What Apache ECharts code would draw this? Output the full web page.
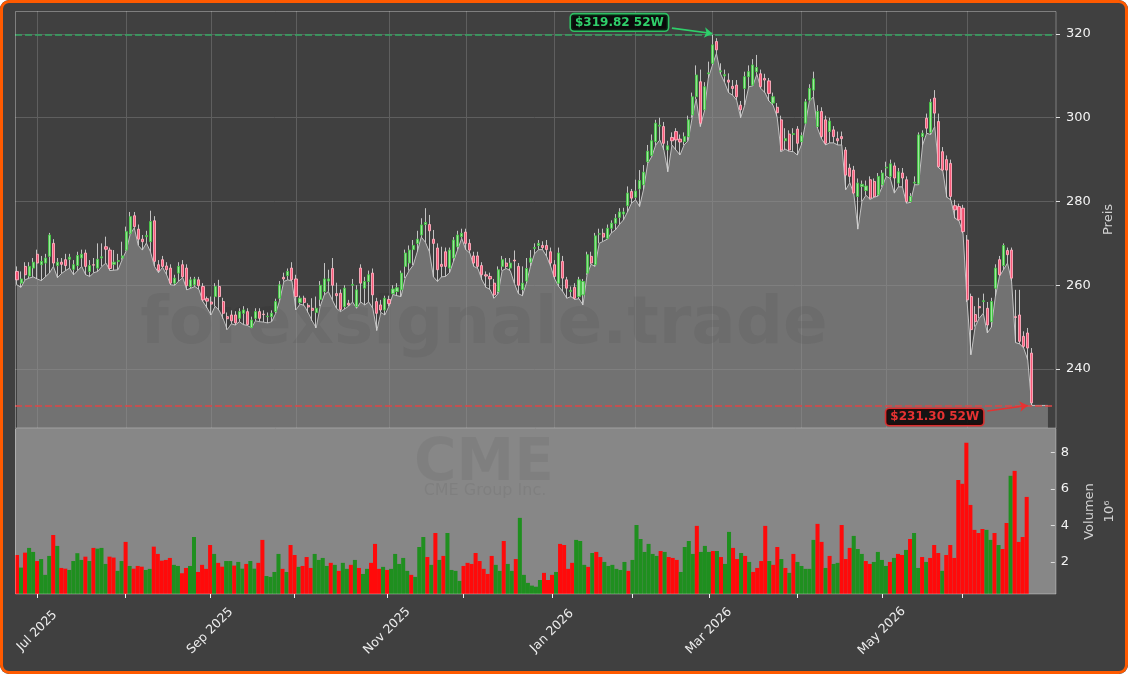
<!DOCTYPE html>
<html><head><meta charset="utf-8">
<script src="https://cdn.jsdelivr.net/npm/echarts@6/dist/echarts.min.js"></script>
<style>
html,body{margin:0;padding:0;background:#ffffff;}
#wrap{position:relative;width:1128px;height:674px;background:#404040;border-radius:9px;overflow:hidden;}
#chart{position:absolute;left:0;top:0;width:1128px;height:674px;}
#frame{position:absolute;left:0;top:0;width:1128px;height:674px;box-sizing:border-box;border:3px solid #ff5a00;border-radius:9px;pointer-events:none;}
</style></head>
<body><div id="wrap"><div id="chart"></div><div id="frame"></div></div>
<script>
// ---- calendar (trading days) ----
const startDate = '2025-06-24';
const endDate = '2026-06-24';
const holidays = ['2025-07-04','2025-09-01','2025-11-27','2025-12-25','2026-01-01','2026-01-19','2026-02-16','2026-04-03','2026-05-25','2026-06-19'];
const padSlots = ['p1','p2','p3','p4','p5'];
const monthNames = ['Jan','Feb','Mar','Apr','May','Jun','Jul','Aug','Sep','Oct','Nov','Dec'];
const priceTicks = [240, 260, 280, 300, 320];
const volTicks = [2, 4, 6, 8];

// ---- OHLC ----
const openP = [263.3,260.5,264.5,262.2,264.1,267.4,264.9,265.3,266.9,270.0,264.7,265.5,266.1,266.2,263.8,264.7,266.5,267.7,263.3,264.9,
264.1,266.5,269.2,268.4,265.0,265.7,266.5,268.4,272.4,276.6,273.4,271.0,271.6,270.4,275.4,264.9,266.1,264.6,264.1,260.5,
262.9,264.9,264.1,259.7,260.1,261.3,259.7,256.8,256.0,257.3,259.7,256.1,252.5,252.9,252.9,252.1,253.3,253.7,249.9,252.1,
253.7,253.1,252.5,252.5,253.7,256.9,261.9,262.3,264.1,261.5,255.9,256.9,255.2,254.5,253.5,256.6,258.5,261.0,264.0,258.0,
258.1,254.9,255.7,260.0,254.9,264.1,259.3,260.9,262.9,256.1,255.3,254.1,256.6,258.0,258.5,258.9,264.5,265.3,268.5,270.0,
272.0,274.5,274.5,271.0,268.9,265.0,268.0,264.1,266.5,269.2,271.6,272.7,270.0,267.0,267.0,264.7,262.5,262.1,260.5,258.5,
264.5,265.3,264.1,266.0,264.5,259.0,261.0,265.5,268.8,269.5,269.5,269.5,268.0,264.9,260.5,265.7,261.3,258.5,259.5,257.3,
257.7,262.9,266.9,264.9,272.2,272.4,271.2,273.6,274.8,276.2,277.0,279.0,282.4,281.0,283.0,284.0,289.5,291.0,294.3,298.0,
297.9,292.3,295.3,296.7,294.9,294.3,295.5,300.7,305.0,308.6,301.9,310.5,313.0,318.2,311.0,310.0,309.0,307.5,307.8,303.0,
307.0,309.8,307.8,311.0,310.5,309.4,308.8,303.5,302.5,299.5,294.5,296.1,296.0,297.3,294.3,298.7,304.2,306.6,297.9,301.5,
299.5,296.7,297.1,295.0,295.5,292.3,288.0,287.5,281.2,283.6,282.6,285.2,284.8,281.6,284.0,288.0,286.0,288.5,284.4,286.8,
285.2,280.0,284.4,284.2,295.5,299.9,296.5,304.7,299.1,291.9,290.0,289.1,279.0,278.8,278.4,270.8,257.3,253.0,254.9,256.1,
254.5,251.3,259.3,266.1,264.7,268.3,268.4,252.5,252.9,247.8,248.6,243.8];
const closeP = [261.3,261.5,262.5,264.5,265.5,265.3,265.7,266.5,272.0,265.3,265.5,265.0,264.7,266.7,264.9,267.1,267.4,264.5,264.7,264.8,
266.2,266.8,268.6,264.0,265.5,265.9,267.0,272.8,276.4,274.0,271.0,270.4,271.9,275.2,265.7,263.5,264.5,263.7,260.5,261.7,
264.5,262.0,259.9,261.3,261.5,259.9,256.5,256.2,255.5,259.7,257.3,253.3,252.0,251.5,251.0,253.7,254.1,250.6,251.7,253.7,
252.1,253.0,252.6,253.3,256.1,260.1,261.5,263.3,261.3,257.3,256.9,255.9,254.8,254.0,254.5,260.0,261.5,261.5,260.0,257.5,
254.2,259.3,255.3,260.2,258.9,260.5,260.9,262.5,257.7,253.3,254.1,256.9,255.6,259.1,259.4,262.9,267.7,268.4,269.5,271.0,
274.4,275.0,273.0,270.0,263.7,264.5,264.5,268.4,270.8,272.0,272.4,270.0,268.4,265.3,264.5,262.5,262.2,261.5,257.7,263.7,
266.1,264.5,265.3,265.8,260.0,260.5,264.0,266.5,269.0,270.0,269.0,268.5,265.3,262.1,267.7,261.7,259.3,258.8,256.9,261.3,
260.9,267.3,265.3,271.8,272.3,271.5,273.6,274.8,276.0,277.5,277.5,282.0,280.8,282.5,285.0,287.0,292.0,294.5,298.7,298.2,
293.9,293.3,294.5,294.7,294.2,295.5,299.5,305.0,310.2,298.7,307.4,310.7,317.4,316.2,311.2,310.3,308.5,307.0,305.0,301.9,
309.8,311.0,312.6,312.0,307.4,309.0,305.8,305.0,301.2,292.3,295.0,292.3,296.2,293.9,295.7,303.8,307.0,309.3,301.5,295.5,
293.9,299.2,295.5,294.5,295.0,286.3,286.0,282.0,284.4,284.1,283.7,280.8,281.2,286.0,286.8,288.2,289.0,285.6,287.1,285.6,
280.0,281.2,284.6,295.9,296.3,297.5,303.7,301.1,288.3,287.5,287.5,281.2,278.0,275.6,272.8,256.5,249.4,251.3,254.6,256.3,
250.5,256.1,264.1,262.5,269.5,267.3,261.7,252.3,246.6,245.4,245.0,231.9];
const highP = [264.5,263.3,265.5,265.5,266.5,268.5,267.0,267.5,272.5,271.0,266.5,266.5,267.5,267.5,266.0,268.0,268.5,268.5,266.0,266.5,
270.0,270.0,271.6,269.0,268.4,267.5,270.4,274.0,277.5,277.5,274.5,272.0,273.0,277.8,276.5,266.0,267.0,265.5,265.0,262.5,
265.5,266.0,265.0,262.0,262.0,262.0,260.5,257.3,257.3,260.5,261.3,257.0,253.5,254.0,253.8,254.5,255.0,254.5,252.5,254.5,
254.5,254.0,253.5,254.0,256.8,261.0,263.0,264.0,265.5,262.5,257.5,257.5,255.7,256.9,257.3,261.0,265.3,263.7,266.5,260.6,
259.0,260.0,256.5,261.5,260.0,265.0,262.0,263.5,264.0,257.0,256.5,257.5,257.5,260.0,260.5,263.5,268.5,269.5,270.8,273.0,
276.0,278.4,276.8,273.2,270.0,269.2,269.0,269.0,271.5,273.0,273.5,273.5,271.0,268.0,268.0,265.5,263.3,263.0,261.5,264.5,
267.0,266.5,266.5,268.3,265.3,264.5,266.5,268.4,270.0,270.8,270.5,270.8,269.0,266.0,269.0,267.0,262.0,259.7,260.5,262.0,
261.5,268.0,268.0,272.5,273.5,273.5,274.5,275.5,277.0,278.4,278.5,283.6,283.0,285.2,287.5,288.7,293.5,296.0,299.5,300.0,
299.0,294.5,296.5,297.5,296.0,296.5,300.5,306.0,312.5,311.5,308.5,313.4,319.82,319.0,313.0,311.5,310.6,309.0,309.0,304.0,
311.0,312.5,314.0,315.0,311.5,310.5,309.5,306.0,303.5,300.5,297.5,297.0,297.5,298.0,296.5,304.5,308.0,311.0,303.0,302.5,
300.5,300.0,298.0,296.7,296.7,293.0,289.0,288.5,285.5,285.0,285.0,286.0,285.5,286.8,287.5,289.5,290.0,289.3,288.0,288.0,
286.0,282.0,286.0,296.5,297.0,301.0,304.5,306.6,301.0,293.0,291.0,290.0,280.4,279.5,279.2,272.0,258.0,255.0,257.0,258.0,
256.0,257.0,265.0,267.0,270.0,269.0,269.0,258.9,258.9,249.0,249.8,245.0];
const lowP = [260.1,259.5,261.3,261.7,262.0,261.5,261.1,262.0,262.9,264.5,261.8,262.8,263.5,264.1,262.5,263.5,264.5,262.5,262.1,263.0,
263.3,264.5,265.3,263.5,263.6,263.7,266.1,268.2,272.2,273.7,269.5,268.4,270.1,268.0,264.5,263.0,264.3,262.5,260.1,260.0,
261.0,261.8,258.9,259.3,259.7,259.0,256.1,254.6,252.9,255.0,254.0,252.0,249.4,250.8,250.5,251.3,250.6,250.4,249.8,251.5,
251.3,251.2,251.0,251.3,253.3,256.5,260.9,261.3,261.0,254.1,255.5,255.2,253.5,251.5,249.8,255.0,257.7,258.5,256.5,254.5,
253.7,254.3,255.0,256.0,254.5,256.0,255.3,256.0,254.5,249.2,253.5,252.9,255.0,257.8,257.5,257.3,261.7,263.5,264.8,268.0,
271.5,270.3,268.0,262.0,260.9,262.0,262.1,263.0,265.8,268.5,271.2,268.5,267.7,264.5,264.0,261.3,259.5,259.0,256.9,258.0,
263.5,264.0,263.5,260.5,258.0,257.5,260.5,264.5,267.5,268.5,268.5,266.9,264.5,261.5,259.7,258.5,256.9,257.3,256.6,256.8,
255.3,262.5,265.0,264.5,270.0,270.5,271.0,272.5,273.2,274.5,275.6,277.5,279.6,280.4,278.8,283.0,289.1,290.7,293.5,294.7,
292.3,287.1,293.5,292.3,291.1,293.5,294.5,300.0,304.5,297.9,301.5,309.5,312.5,315.4,310.5,308.5,306.0,305.4,304.2,300.0,
303.0,307.4,307.6,310.4,307.0,306.0,304.0,303.0,300.3,291.9,292.5,292.0,291.9,291.1,293.5,298.5,304.0,305.0,297.5,295.0,
293.5,294.0,294.0,293.5,293.5,282.8,284.5,281.7,273.4,280.0,281.5,280.5,281.0,281.3,283.5,286.0,285.5,282.0,283.5,283.5,
279.6,279.8,284.0,284.0,293.5,296.3,296.0,297.9,288.0,287.3,281.0,280.4,276.0,275.4,272.4,256.0,243.4,250.1,252.1,253.3,
248.6,250.0,257.3,262.1,263.7,265.3,261.0,246.3,246.0,245.0,242.2,231.3];
// the filled low line continues flat to the right edge of the plot
const lowTail = [231.3, 231.3, 231.3, 231.3];

// ---- volume in millions, 1 = green bar, 0 = red bar ----
const volume = [2.38,1.69,2.51,2.77,2.55,2.05,2.16,1.29,2.33,3.48,2.88,1.67,1.63,1.56,2.05,2.48,2.11,2.29,2.05,2.77,
2.73,2.77,1.89,2.29,2.24,1.51,2.05,3.10,1.78,1.63,1.78,1.74,1.56,1.62,2.84,2.44,2.07,2.11,2.22,1.84,
1.78,1.38,1.67,1.78,3.37,1.45,1.84,1.62,2.93,2.44,1.95,1.74,2.05,2.05,1.80,2.00,1.63,1.89,2.05,1.63,
1.95,3.21,1.23,1.18,1.45,2.44,1.62,1.45,2.93,2.38,1.73,1.78,2.27,1.67,2.44,2.11,2.22,1.78,1.95,1.84,
1.51,1.95,1.62,1.84,2.11,1.67,1.34,1.62,1.95,2.99,1.62,1.73,1.56,1.62,2.44,1.89,2.22,1.51,1.29,1.18,
2.82,3.37,2.27,1.84,3.59,2.11,2.33,3.59,1.56,1.51,0.96,1.78,1.95,1.89,2.49,2.05,1.62,1.34,2.33,1.84,
1.51,3.15,1.89,1.51,2.16,4.42,1.29,0.85,0.70,0.64,1.01,1.40,1.01,1.29,1.45,2.99,2.93,1.62,1.95,3.21,
3.15,1.84,1.73,2.49,2.55,2.27,2.00,1.78,1.84,1.62,1.56,2.00,1.51,2.11,4.03,3.26,2.55,2.99,2.44,2.33,
2.60,2.55,2.27,2.22,2.11,1.45,2.82,3.15,2.44,3.98,2.55,2.88,2.55,2.60,2.60,2.27,1.89,3.65,2.77,2.16,
2.49,2.33,2.00,1.45,1.67,2.05,3.98,2.05,1.84,2.82,2.16,1.67,1.40,2.44,2.00,1.78,1.62,1.62,3.21,4.09,
3.10,1.67,2.33,1.89,1.95,4.03,2.16,2.77,3.43,2.71,2.44,2.05,1.89,2.00,2.55,2.11,1.78,2.00,2.22,2.44,
2.38,2.66,3.26,3.59,1.67,2.27,2.00,2.22,2.93,2.49,1.51,2.38,2.93,2.22,6.50,6.29,8.54,5.13,3.76,3.59,
3.81,3.76,3.21,3.59,2.93,2.71,4.14,6.73,7.00,3.10,3.37,5.57];
const volUp = [0,1,0,1,1,0,1,1,1,0,1,0,0,1,1,1,1,0,1,0,
1,1,1,0,0,1,1,0,1,0,0,0,1,1,0,0,0,0,0,1,
1,0,0,1,1,0,0,0,0,1,0,0,1,1,0,1,1,0,1,1,
0,0,1,1,1,1,0,1,0,0,1,0,0,0,1,1,1,1,0,1,
0,1,1,0,1,0,1,1,0,0,0,1,0,1,1,1,1,1,0,1,
1,1,0,1,0,1,0,1,1,1,1,0,0,0,0,0,0,0,0,1,
1,0,1,1,0,1,1,1,1,1,1,0,0,0,1,0,0,0,0,1,
1,1,0,1,0,0,1,1,1,1,1,1,0,1,1,1,1,1,1,1,
0,1,0,0,0,1,1,1,1,0,1,1,1,0,1,0,1,1,0,0,
1,0,1,0,0,0,0,1,0,0,1,0,1,0,1,1,1,1,1,0,
0,1,0,1,1,0,0,0,1,1,1,0,0,1,1,1,1,0,1,0,
0,1,0,1,1,0,1,0,0,0,1,0,0,0,0,0,0,0,0,0,
0,1,1,0,1,0,0,1,0,0,0,0];

function tradingDays(s, e, hol) {
  const out = [];
  const d = new Date(s + 'T00:00:00Z');
  const end = new Date(e + 'T00:00:00Z');
  while (d <= end) {
    const wd = d.getUTCDay();
    const iso = d.toISOString().slice(0, 10);
    if (wd !== 0 && wd !== 6 && hol.indexOf(iso) < 0) out.push(iso);
    d.setUTCDate(d.getUTCDate() + 1);
  }
  return out;
}
const dates = tradingDays(startDate, endDate, holidays).slice(0, openP.length);
const cats = dates.concat(padSlots);
function isMonthStart(i) {
  return i > 0 && i < dates.length && dates[i].slice(0, 7) !== dates[i - 1].slice(0, 7);
}
function isLabelMonth(i) {
  return isMonthStart(i) && (parseInt(dates[i].slice(5, 7), 10) % 2 === 1);
}
function fmtMonth(v) {
  if (!/^\d{4}-\d{2}/.test(v)) return '';
  return monthNames[parseInt(v.slice(5, 7), 10) - 1] + ' ' + v.slice(0, 4);
}
const monthStartIdx = [];
for (let i = 0; i < dates.length; i++) if (isMonthStart(i)) monthStartIdx.push(i);

const lowArea = lowP.concat(lowTail).concat(['-']);
const wickData = lowP.map((l, i) => [l, l, l, highP[i]]);
const bodyData = openP.map((o, i) => [o, closeP[i], Math.min(o, closeP[i]), Math.max(o, closeP[i])]);
const volData = volume.map((v, i) => ({ value: v, itemStyle: { color: volUp[i] ? '#1f8f1f' : '#ff0a0a' } }));

const hiIdx = highP.indexOf(Math.max.apply(null, highP));
const loIdx = lowP.indexOf(Math.min.apply(null, lowP));
const hiVal = highP[hiIdx], loVal = lowP[loIdx];

const FONT = 'DejaVu Sans';
const chart = echarts.init(document.getElementById('chart'), null, { renderer: 'canvas' });
const option = {
  animation: false,
  backgroundColor: 'transparent',
  textStyle: { fontFamily: FONT },
  grid: [
    { left: 15, top: 11, width: 1039, height: 417 },
    { left: 15, top: 429, width: 1039, height: 165 }
  ],
  graphic: [
    { type: 'rect', z: -5, shape: { x: 15, y: 429, width: 1041, height: 165 }, style: { fill: '#878787' }, silent: true },
    { type: 'rect', z: 50, shape: { x: 15.5, y: 11.5, width: 1040.5, height: 416.5 }, style: { fill: 'none', stroke: 'rgba(255,255,255,0.33)', lineWidth: 1 }, silent: true },
    { type: 'rect', z: 50, shape: { x: 15.5, y: 428.5, width: 1040.5, height: 165.5 }, style: { fill: 'none', stroke: 'rgba(255,255,255,0.33)', lineWidth: 1 }, silent: true },
    { type: 'text', z: 3, x: 484, y: 326, silent: true, style: { text: 'forexsignale.trade', font: 'bold 66px "DejaVu Sans"', fill: 'rgba(0,0,0,0.055)', textAlign: 'center', textVerticalAlign: 'middle' } },
    { type: 'text', z: 3, x: 484, y: 465, silent: true, style: { text: 'CME', font: 'bold 58px "DejaVu Sans"', fill: 'rgba(0,0,0,0.055)', textAlign: 'center', textVerticalAlign: 'middle' } },
    { type: 'text', z: 3, x: 485, y: 491, silent: true, style: { text: 'CME Group Inc.', font: '16px "DejaVu Sans"', fill: 'rgba(0,0,0,0.06)', textAlign: 'center', textVerticalAlign: 'middle' } }
  ],
  xAxis: [
    { type: 'category', gridIndex: 0, data: cats, boundaryGap: true,
      axisLine: { show: false }, axisTick: { show: false }, axisLabel: { show: false }, splitLine: { show: false } },
    { type: 'category', gridIndex: 1, data: cats, boundaryGap: true,
      axisLine: { show: false },
      axisTick: { show: true, alignWithLabel: true, interval: (i) => isMonthStart(i), length: 4, lineStyle: { color: '#f0f0f0', width: 1 } },
      axisLabel: { show: true, interval: (i) => isLabelMonth(i), rotate: 45, align: 'center', verticalAlign: 'middle', margin: 37,
        color: '#ececec', fontSize: 12.5, fontFamily: FONT, formatter: fmtMonth },
      splitLine: { show: false } }
  ],
  yAxis: [
    { type: 'value', gridIndex: 0, position: 'right', offset: 2, min: 225.91, max: 325.49,
      axisLine: { show: false },
      axisTick: { show: true, length: 4, customValues: priceTicks, lineStyle: { color: '#dcdcdc' } },
      axisLabel: { color: '#f2f2f2', fontSize: 13, margin: 10, fontFamily: FONT, customValues: priceTicks },
      splitLine: { show: true, lineStyle: { color: '#5f5f5f', width: 1 } },
      name: 'Preis', nameLocation: 'middle', nameGap: 40, nameTextStyle: { color: '#d2d2d2', fontSize: 13, fontFamily: FONT } },
    { type: 'value', gridIndex: 1, position: 'right', offset: 2, min: 0.24, max: 9.3,
      axisLine: { show: false },
      axisTick: { show: true, length: 4, customValues: volTicks, lineStyle: { color: '#dcdcdc' } },
      axisLabel: { color: '#f2f2f2', fontSize: 13, margin: 10, fontFamily: FONT, customValues: volTicks },
      splitLine: { show: false },
      name: 'Volumen\n10\u2076', nameLocation: 'middle', nameGap: 18, nameTextStyle: { color: '#d2d2d2', fontSize: 13, lineHeight: 20, fontFamily: FONT } }
  ],
  series: [
    { name: 'grid-host', type: 'line', xAxisIndex: 0, yAxisIndex: 0, data: lowArea, symbol: 'none', silent: true,
      lineStyle: { opacity: 0 }, z: 1,
      markLine: { silent: true, z: 1, symbol: ['none', 'none'], label: { show: false },
        lineStyle: { color: '#5f5f5f', type: 'solid', width: 1 },
        data: monthStartIdx.map((i) => ({ xAxis: i })) } },
    { name: 'low', type: 'line', xAxisIndex: 0, yAxisIndex: 0, data: lowArea, symbol: 'none', showSymbol: false, silent: true,
      lineStyle: { color: '#c2c2c2', width: 1 }, areaStyle: { color: 'rgba(148,148,148,0.86)', origin: 'start' }, z: 2,
      markLine: { silent: true, z: 6, symbol: ['none', 'none'], label: { show: false },
        data: [
          { yAxis: hiVal, lineStyle: { color: '#35a862', type: [7, 3], width: 1.6 } },
          { yAxis: loVal, lineStyle: { color: '#e04646', type: [7, 3], width: 1.6 } },
          [ { coord: [162, 321.4], symbol: 'none', lineStyle: { color: '#2fcf6a', type: 'solid', width: 1.6 } },
            { coord: [hiIdx, 320.1], symbol: 'arrow', symbolSize: 8, lineStyle: { color: '#2fcf6a', type: 'solid', width: 1.6 } } ],
          [ { coord: [240, 229.97], symbol: 'none', lineStyle: { color: '#e63232', type: 'solid', width: 1.6 } },
            { coord: [loIdx - 1, 231.3], symbol: 'arrow', symbolSize: 8, lineStyle: { color: '#e63232', type: 'solid', width: 1.6 } } ]
        ] },
      markPoint: { silent: true, z: 7, symbol: 'rect', symbolSize: 0,
        data: [
          { coord: [149, 322.75], label: { show: true, position: 'inside', formatter: '$' + hiVal.toFixed(2) + ' 52W',
              color: '#2fcf6a', fontWeight: 'bold', fontSize: 12, fontFamily: FONT,
              backgroundColor: 'rgba(0,0,0,0.82)', borderColor: '#2fbf63', borderWidth: 1.6, borderRadius: 3, padding: [2, 4, 2, 4] } },
          { coord: [227, 228.54], label: { show: true, position: 'inside', formatter: '$' + loVal.toFixed(2) + ' 52W',
              color: '#e63232', fontWeight: 'bold', fontSize: 12, fontFamily: FONT,
              backgroundColor: 'rgba(0,0,0,0.82)', borderColor: '#d83030', borderWidth: 1.6, borderRadius: 3, padding: [2, 4, 2, 4] } }
        ] } },
    { name: 'wick', type: 'candlestick', xAxisIndex: 0, yAxisIndex: 0, data: wickData, barWidth: 1, silent: true, z: 4,
      itemStyle: { color: '#d2d2d2', color0: '#d2d2d2', borderColor: '#d2d2d2', borderColor0: '#d2d2d2', borderColorDoji: '#d2d2d2', borderWidth: 1, opacity: 0.9 } },
    { name: 'body', type: 'candlestick', xAxisIndex: 0, yAxisIndex: 0, data: bodyData, barWidth: 2.6, silent: true, z: 5,
      itemStyle: { color: '#9ceb9c', color0: '#ff4f72', borderColor: '#45c845', borderColor0: '#ffb0c0', borderColorDoji: '#dddddd', borderWidth: 1, opacity: 0.9 } },
    { name: 'vol', type: 'bar', xAxisIndex: 1, yAxisIndex: 1, data: volData, barCategoryGap: '0%', barWidth: '100%', silent: true, z: 2 }
  ]
};
chart.setOption(option);
</script>
</body></html>
